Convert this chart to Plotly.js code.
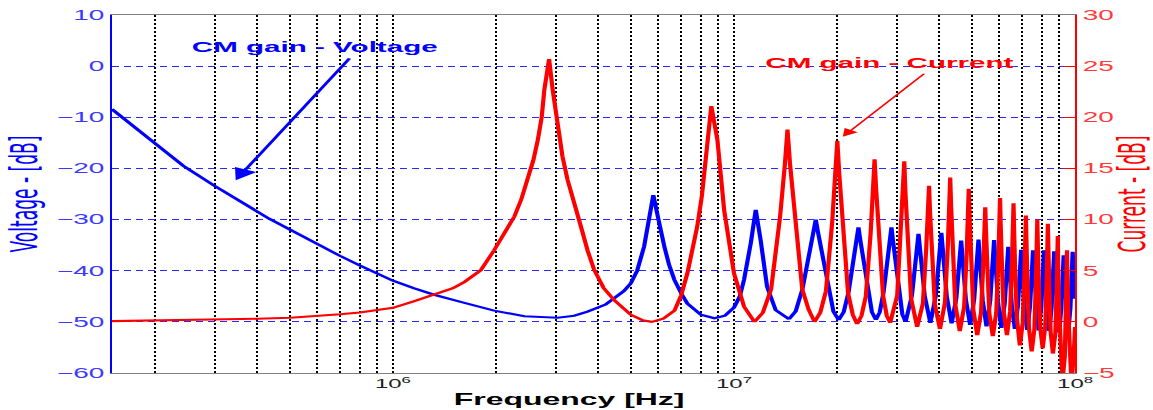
<!DOCTYPE html>
<html>
<head>
<meta charset="utf-8">
<script src="https://cdn.plot.ly/plotly-3.0.1.min.js"></script>
<style>
html, body { margin: 0; padding: 0; overflow: hidden; background: #fff; }
#chart { width: 577px; height: 410px; transform: scale(1.99827, 1); transform-origin: 0 0; }
</style>
</head>
<body>
<div id="chart"></div>
<script>
// ---- Data (frequency in Hz, gains in dB) ----
const voltageFreq = [
  1.5e5, 1.75e5, 2e5, 2.43e5, 3e5, 3.5e5, 4e5, 4.33e5, 5e5, 6e5, 7e5, 8e5, 9e5, 1e6, 1.15e6, 1.32e6, 1.6e6, 1.98e6, 2.43e6, 3.04e6,
  3.4e6, 3.72e6, 4.2e6, 4.46e6, 4.75e6, 4.98e6, 5.2e6, 5.45e6, 5.6e6, 5.7e6, 5.8e6, 5.98e6, 6.1e6, 6.25e6, 6.45e6, 6.69e6, 7.0e6, 7.3e6, 8.0e6, 8.76e6,
  9.4e6, 10.0e6, 10.4e6, 10.7e6, 11.2e6, 11.58e6, 11.97e6, 12.5e6, 13.25e6, 14.5e6,
  15.17e6, 15.87e6, 16.67e6, 17.12e6, 17.37e6, 17.62e6, 18.07e6, 18.87e6, 19.57e6, 20.27e6,
  20.97e6, 21.67e6, 22.47e6, 22.92e6, 23.17e6, 23.42e6, 23.87e6, 24.67e6, 25.37e6, 26.07e6,
  26.75e6, 27.45e6, 28.25e6, 28.7e6, 28.95e6, 29.2e6, 29.65e6, 30.45e6, 31.15e6, 31.85e6,
  33.25e6, 34.05e6, 34.5e6, 34.75e6, 35.0e6, 35.45e6, 36.25e6, 37.65e6,
  39.05e6, 39.85e6, 40.3e6, 40.55e6, 40.8e6, 41.25e6, 42.05e6, 43.45e6,
  44.85e6, 45.65e6, 46.1e6, 46.35e6, 46.6e6, 47.05e6, 47.85e6, 49.25e6,
  50.6e6, 51.4e6, 51.85e6, 52.1e6, 52.35e6, 52.8e6, 53.6e6, 55.0e6,
  56.4e6, 57.2e6, 57.65e6, 57.9e6, 58.15e6, 58.6e6, 59.4e6, 60.8e6,
  62.2e6, 63.0e6, 63.45e6, 63.7e6, 63.95e6, 64.4e6, 65.2e6, 66.6e6,
  68.0e6, 68.8e6, 69.25e6, 69.5e6, 69.75e6, 70.2e6, 71.0e6, 72.4e6,
  73.8e6, 74.6e6, 75.05e6, 75.3e6, 75.55e6, 76.0e6, 76.8e6, 78.2e6,
  79.6e6, 80.4e6, 80.85e6, 81.1e6, 81.35e6, 81.8e6, 82.6e6, 84.0e6,
  85.35e6, 86.15e6, 86.6e6, 86.85e6, 87.1e6, 87.55e6, 88.35e6, 89.75e6,
  91.1e6, 91.9e6, 92.35e6, 92.6e6, 92.85e6, 93.3e6, 94.1e6, 95.5e6,
  96.9e6, 97.7e6, 98.15e6, 98.4e6, 98.65e6, 99.1e6, 100e6
];
const voltageGain = [
  -8.4, -12.0, -15.2, -19.5, -23.4, -26.1, -28.5, -29.8, -32.0, -34.8, -37.1, -39.0, -40.6, -41.95, -43.4, -44.7, -46.2, -47.8, -48.9, -49.2,
  -48.8, -48.0, -46.6, -45.4, -44.0, -42.5, -40.0, -35.3, -31.2, -27.5, -25.2, -29.4, -32.5, -35.3, -38.8, -41.8, -44.4, -46.4, -48.6, -49.3,
  -48.8, -47.2, -45.0, -41.8, -34.6, -28.1, -34.0, -43.1, -47.7, -49.45,
  -47.9, -43.6, -36.2, -32.3, -30.0, -32.35, -36.3, -43.7, -48.0, -49.6,
  -48.1, -44.2, -37.3, -33.7, -31.5, -33.7, -37.3, -44.2, -48.1, -49.6,
  -48.1, -44.2, -37.3, -33.7, -31.5, -33.7, -37.4, -44.5, -48.5, -50.0,
  -44.8, -38.3, -34.9, -32.8, -34.9, -38.4, -45.0, -50.2,
  -44.9, -38.2, -34.7, -32.6, -34.7, -38.3, -45.0, -50.3,
  -45.4, -39.3, -36.0, -34.1, -36.1, -39.4, -45.7, -50.6,
  -45.6, -39.2, -35.9, -33.9, -35.9, -39.3, -45.8, -50.9,
  -45.8, -39.4, -36.0, -34.0, -36.1, -39.5, -46.0, -51.2,
  -46.4, -40.4, -37.2, -35.3, -37.2, -40.5, -46.6, -51.4,
  -46.8, -40.9, -37.8, -35.9, -37.8, -40.9, -46.9, -51.6,
  -46.9, -41.0, -37.9, -36.0, -37.9, -41.0, -47.0, -51.7,
  -47.0, -41.0, -37.9, -36.0, -37.9, -41.1, -47.1, -51.8,
  -47.1, -41.2, -38.1, -36.2, -38.1, -41.3, -47.3, -52.0,
  -47.5, -41.8, -38.8, -37.0, -38.8, -41.8, -47.5, -52.0,
  -47.3, -41.3, -38.2, -36.3, -38.2, -41.3, -45.5
];

const currentFreq = [
  1.5e5, 2e5, 3e5, 4e5, 5e5, 6e5, 7e5, 8e5, 9e5, 1e6, 1.15e6, 1.32e6, 1.5e6, 1.62e6, 1.81e6, 1.98e6, 2.1e6, 2.27e6, 2.38e6, 2.48e6,
  2.58e6, 2.66e6, 2.73e6, 2.78e6, 2.87e6, 2.94e6, 3.04e6, 3.14e6, 3.25e6, 3.4e6, 3.56e6, 3.72e6, 3.89e6, 4.15e6, 4.46e6, 4.98e6, 5.4e6, 5.74e6,
  6.2e6, 6.69e6, 7.0e6, 7.3e6, 7.8e6, 8.05e6, 8.3e6, 8.58e6, 8.94e6, 9.36e6, 10.0e6, 10.7e6, 11.48e6,
  12.15e6, 12.85e6, 13.65e6, 14.1e6, 14.35e6, 14.6e6, 15.05e6, 15.85e6, 16.55e6, 17.22e6,
  17.9e6, 18.6e6, 19.4e6, 19.85e6, 20.09e6, 20.35e6, 20.8e6, 21.6e6, 22.3e6, 22.96e6,
  23.65e6, 24.35e6, 25.15e6, 25.6e6, 25.83e6, 26.1e6, 26.55e6, 27.35e6, 28.05e6, 28.7e6,
  30.1e6, 30.9e6, 31.35e6, 31.57e6, 31.8e6, 32.25e6, 33.05e6, 34.44e6,
  35.8e6, 36.6e6, 37.1e6, 37.31e6, 37.55e6, 38.0e6, 38.8e6, 40.18e6,
  41.55e6, 42.35e6, 42.8e6, 43.05e6, 43.3e6, 43.75e6, 44.55e6, 45.92e6,
  47.3e6, 48.1e6, 48.55e6, 48.79e6, 49.05e6, 49.5e6, 50.3e6, 51.66e6,
  53.0e6, 53.8e6, 54.3e6, 54.53e6, 54.8e6, 55.25e6, 56.05e6, 57.4e6,
  58.75e6, 59.55e6, 60.05e6, 60.27e6, 60.5e6, 60.95e6, 61.75e6, 63.14e6,
  64.5e6, 65.3e6, 65.8e6, 66.01e6, 66.25e6, 66.7e6, 67.5e6, 68.88e6,
  70.25e6, 71.05e6, 71.5e6, 71.75e6, 72.0e6, 72.45e6, 73.25e6, 74.62e6,
  76.0e6, 76.8e6, 77.25e6, 77.49e6, 77.75e6, 78.2e6, 79.0e6, 80.36e6,
  81.75e6, 82.55e6, 83.0e6, 83.23e6, 83.5e6, 83.95e6, 84.75e6, 86.1e6,
  87.55e6, 88.3e6, 88.75e6, 88.97e6, 89.2e6, 89.65e6, 90.45e6, 91.84e6,
  93.3e6, 94.0e6, 94.45e6, 94.71e6, 94.95e6, 95.4e6, 96.2e6, 97.58e6,
  99.0e6, 100e6
];
const currentGain = [
  0.07, 0.12, 0.23, 0.3, 0.4, 0.55, 0.75, 0.92, 1.14, 1.37, 2.0, 2.7, 3.3, 3.9, 5.05, 7.0, 8.4, 10.3, 12.0, 13.9,
  15.8, 17.8, 20.0, 22.7, 25.7, 22.7, 18.8, 16.2, 13.9, 11.4, 9.3, 7.0, 5.1, 3.3, 2.1, 0.7, 0.15, 0.0,
  0.3, 1.1, 2.6, 4.75, 9.3, 12.3, 16.1, 21.1, 17.8, 10.9, 4.75, 1.5, 0.0,
  0.9, 3.2, 10.3, 15.4, 18.8, 15.4, 10.3, 3.2, 1.2, 0.0,
  0.9, 3.0, 9.7, 14.5, 17.7, 14.5, 9.7, 2.8, 0.7, -0.2,
  0.6, 2.5, 8.6, 13.0, 15.9, 13.0, 8.7, 2.6, 0.6, -0.1,
  2.6, 8.6, 12.9, 15.7, 12.8, 8.4, 2.3, -0.5,
  1.8, 7.1, 10.8, 13.3, 10.8, 7.0, 1.7, -0.7,
  1.9, 7.4, 11.4, 14.1, 11.4, 7.4, 1.7, -0.9,
  1.5, 6.7, 10.5, 13.0, 10.4, 6.6, 1.2, -1.3,
  0.9, 5.6, 8.9, 11.2, 8.9, 5.5, 0.8, -1.4,
  0.9, 6.0, 9.7, 12.1, 9.7, 6.1, 1.0, -1.3,
  1.0, 5.8, 9.3, 11.6, 9.1, 5.3, 0.4, -2.3,
  -0.1, 4.7, 8.1, 10.4, 8.0, 4.4, -0.6, -2.9,
  -0.7, 4.2, 7.7, 10.0, 7.7, 4.3, -0.5, -2.6,
  -0.5, 4.1, 7.4, 9.6, 7.3, 3.9, -0.9, -3.1,
  -1.1, 3.2, 6.3, 8.4, 5.8, 1.6, -3.6, -5.8,
  -3.4, 1.3, 4.7, 7.0, 4.7, 1.2, -3.6, -6.0,
  -3.5, -0.5
];

const freqTickVals = [
  2e5, 3e5, 4e5, 5e5, 6e5, 7e5, 8e5, 9e5,
  1e6, 2e6, 3e6, 4e6, 5e6, 6e6, 7e6, 8e6, 9e6,
  1e7, 2e7, 3e7, 4e7, 5e7, 6e7, 7e7, 8e7, 9e7, 1e8
];
const freqTickText = [
  '', '', '', '', '', '', '', '',
  '10<sup>6</sup>', '', '', '', '', '', '', '', '',
  '10<sup>7</sup>', '', '', '', '', '', '', '', '', '10<sup>8</sup>'
];
const labelVoltage = 'CM gain - Voltage';
const labelCurrent = 'CM gain - Current';
const titleX = 'Frequency [Hz]';
const titleYLeft = 'Voltage - [dB]';
const titleYRight = 'Current - [dB]';

// ---- Chart ----
const FONT = 'Liberation Sans, Arial, Helvetica, sans-serif';
const NARROW = 'Liberation Sans Narrow, Arial Narrow, DejaVu Sans Condensed, Liberation Sans, sans-serif';

const traces = [
  {
    x: voltageFreq, y: voltageGain, type: 'scatter', mode: 'lines',
    name: 'Voltage', yaxis: 'y',
    line: { color: '#0000ff', width: 2.1 }
  },
  {
    x: currentFreq, y: currentGain, type: 'scatter', mode: 'lines',
    name: 'Current', yaxis: 'y2',
    line: { color: '#ff0000', width: 2.1 }
  }
];

const layout = {
  width: 577, height: 410,
  margin: { l: 55.5, r: 39.1, t: 15, b: 37, pad: 0 },
  paper_bgcolor: '#ffffff', plot_bgcolor: '#ffffff',
  showlegend: false,
  font: { family: FONT },
  xaxis: {
    type: 'log', range: [Math.log10(1.5e5), 8],
    tickmode: 'array', tickvals: freqTickVals, ticktext: freqTickText,
    showgrid: true, gridcolor: '#000000', gridwidth: 1, griddash: '2px,2px',
    showline: true, linecolor: '#808080', linewidth: 1, mirror: true,
    ticks: '', zeroline: false,
    tickfont: { family: FONT, size: 12, color: '#222222' }
  },
  yaxis: {
    range: [-60, 10], tick0: 0, dtick: 10,
    showgrid: true, gridcolor: '#2a2aff', gridwidth: 1, griddash: '3.5px,2.5px',
    showline: true, linecolor: '#0000ff', linewidth: 1,
    ticks: '', zeroline: false,
    tickfont: { family: FONT, size: 14, color: '#3a3aff' },
    title: { text: titleYLeft, font: { family: NARROW, size: 19, color: '#0000ff' }, standoff: 4 }
  },
  yaxis2: {
    overlaying: 'y', side: 'right', anchor: 'x',
    range: [-5, 30], tick0: 0, dtick: 5,
    showgrid: false, zeroline: false,
    showline: true, linecolor: '#ff0000', linewidth: 1,
    ticks: 'inside', ticklen: 6, tickwidth: 1, tickcolor: '#ff0000',
    tickfont: { family: FONT, size: 14, color: '#ff3a3a' },
    title: { text: titleYRight, font: { family: NARROW, size: 19, color: '#ff0000' }, standoff: 5 }
  },
  annotations: [
    {
      xref: 'paper', yref: 'paper', x: 0.4751, y: -0.073, xanchor: 'center', yanchor: 'middle',
      text: titleX, showarrow: false,
      font: { family: FONT, size: 16, color: '#000000', weight: 'bold' }
    },
    {
      xref: 'x', yref: 'y', x: Math.log10(3.46e5), y: -22.3,
      axref: 'x', ayref: 'y', ax: Math.log10(7.53e5), ay: 1.8,
      showarrow: true, arrowhead: 2, arrowsize: 1.3, arrowwidth: 1.8, arrowcolor: '#0000ff', text: ''
    },
    {
      xref: 'x', yref: 'y2', x: Math.log10(2.084e7), y: 18.1,
      axref: 'x', ayref: 'y2', ax: Math.log10(3.656e7), ay: 24.4,
      showarrow: true, arrowhead: 2, arrowsize: 1.3, arrowwidth: 1.2, arrowcolor: '#ff0000', text: ''
    },
    {
      xref: 'x', yref: 'y', x: Math.log10(5.905e5), y: 3.8,
      text: labelVoltage, showarrow: false,
      font: { family: FONT, size: 14.8, color: '#0000ff', weight: 'bold' }
    },
    {
      xref: 'x', yref: 'y2', x: Math.log10(2.838e7), y: 25.3,
      text: labelCurrent, showarrow: false,
      font: { family: FONT, size: 14.8, color: '#ff0000', weight: 'bold' }
    }
  ]
};

Plotly.newPlot('chart', traces, layout, { staticPlot: true, displayModeBar: false });
</script>
</body>
</html>
